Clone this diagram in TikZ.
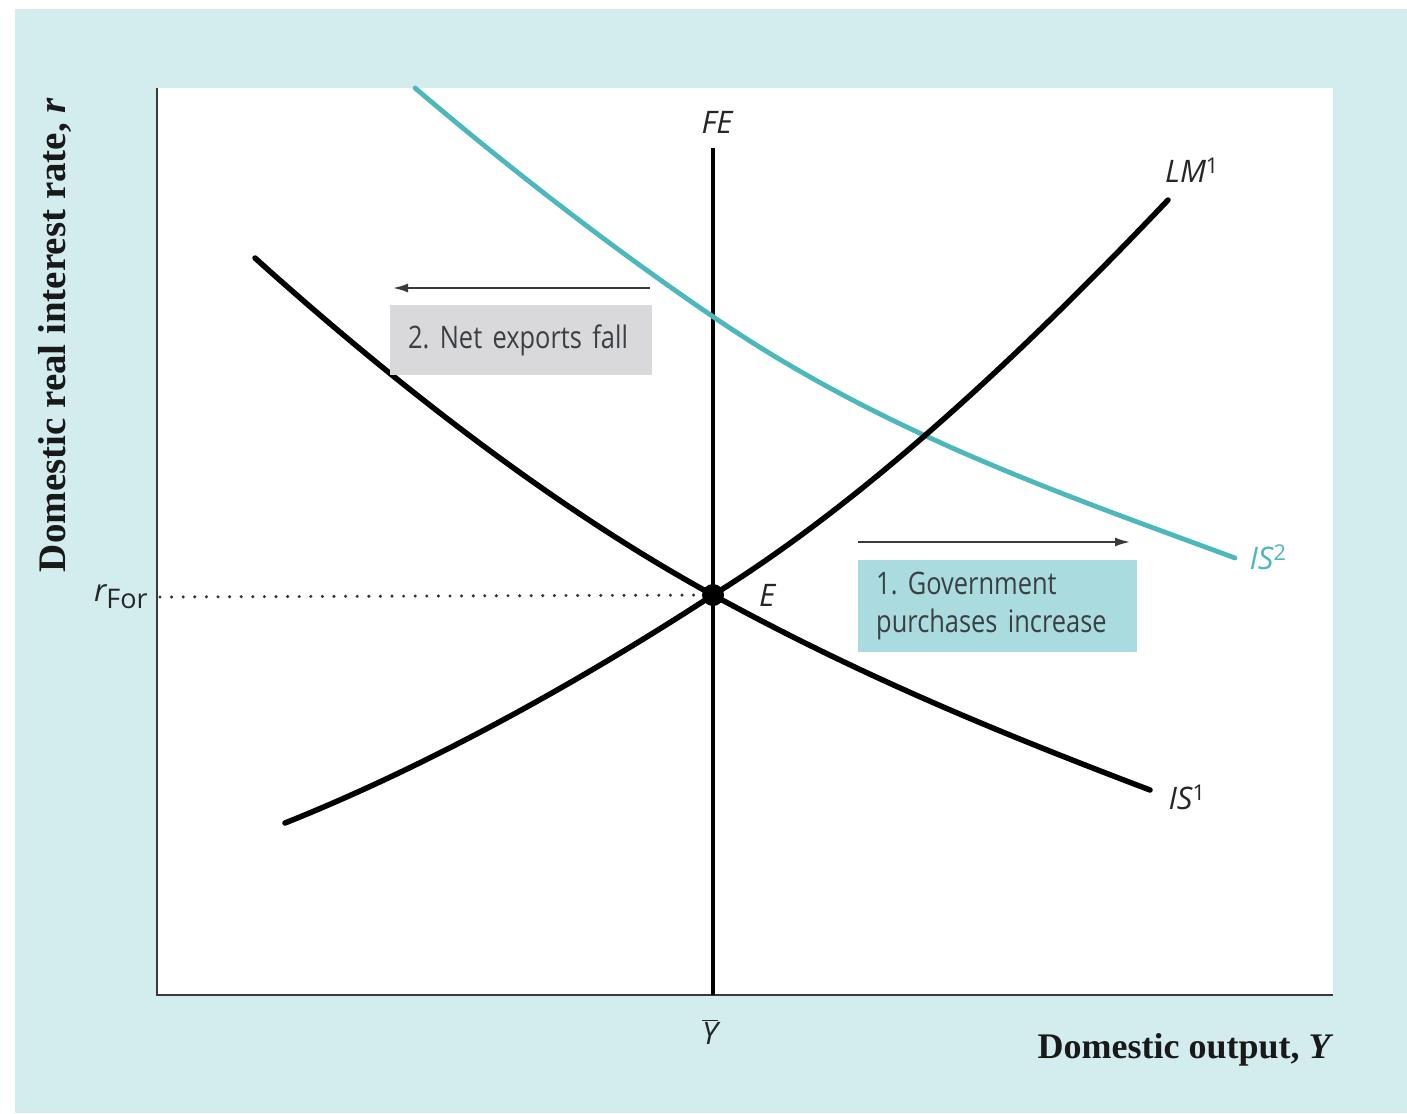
\documentclass[tikz,border=0pt]{standalone}
\usepackage{fontspec}
\usetikzlibrary{arrows.meta}
\setmainfont{Liberation Serif}
\newfontfamily\labfont[FakeStretch=0.82]{Open Sans}
\newfontfamily\curvefont{Open Sans}
\definecolor{bgcyan}{HTML}{D3ECEE}
\definecolor{tealline}{HTML}{4DB8BC}
\definecolor{boxteal}{HTML}{AADCDF}
\definecolor{boxgray}{HTML}{D9D9DC}
\definecolor{txtgray}{HTML}{3A3F44}
\definecolor{axisgray}{HTML}{3A3A3A}
\begin{document}
\frenchspacing
\begin{tikzpicture}[x=1pt,y=-1pt,
  curve/.style={line width=5.5pt,black,line cap=round},
  tealcurve/.style={line width=4.8pt,tealline,line cap=round},
  axis/.style={line width=2.5pt,axisgray},
  shiftarrow/.style={line width=2pt,axisgray,-{Latex[length=15pt,width=9pt]}},
  notebox/.style={anchor=north west,inner xsep=18pt,inner ysep=0pt,align=left,
     font=\labfont\fontsize{31}{38}\selectfont,text=txtgray},
  curvelabel/.style={font=\curvefont\itshape\fontsize{31}{36}\selectfont,text=black!85},
  axislabel/.style={font=\bfseries\fontsize{36}{40}\selectfont,text=black!90}]
\useasboundingbox (0,0) rectangle (1407,1113);
\fill[white] (0,0) rectangle (1407,1113);
\fill[bgcyan] (15,9) rectangle (1407,1113);
\fill[white] (157,88) rectangle (1333,995);
% axes
\coordinate (O) at (157,995);
\coordinate (ytop) at (157,88);
\coordinate (xend) at (1333,995);
\draw[axis] (ytop) -- (O) -- (xend);
% FE line
\coordinate (FEtop) at (713,148);
\coordinate (FEbot) at (713,995);
\draw[line width=4pt,black] (FEtop) -- (FEbot);
% dotted rFor line
\coordinate (rl) at (160,597);
\coordinate (Ept) at (713,595);
\draw[line width=3.4pt,black!80,line cap=round,dash pattern=on 0pt off 11.6pt] (rl) -- (Ept);
% IS2
\draw[tealcurve] (415,88) .. controls (515,173) and (615,250) .. (715,318)
   .. controls (885,434) and (1065,495) .. (1235,558);
% IS1
\draw[curve] (255,258) .. controls (405,393) and (563,513) .. (713,595)
   .. controls (863,677) and (1000,733) .. (1150,790);
% LM1
\draw[curve] (285,823) .. controls (425,767) and (573,686) .. (713,595)
   .. controls (863,502) and (1018,358) .. (1168,200);
% equilibrium
\fill[black] (Ept) circle (11pt);
\node[curvelabel] (Elab) at (767,595) {E};
% labels
\node[curvelabel] (FE) at (717,122) {FE};
\node[curvelabel] (LM) at (1192,170) {LM\textsuperscript{\upshape 1}};
\node[curvelabel] (IS1) at (1187,797) {IS\textsuperscript{\upshape 1}};
\node[curvelabel,text=tealline] (IS2) at (1268,557) {IS\textsuperscript{\upshape 2}};
\node[curvelabel] (rfor) at (121,597) {r\raisebox{-7pt}{\upshape\fontsize{27}{30}\selectfont For}};
\node[curvelabel] (ybar) at (710,1032) {$\overline{\mbox{\curvefont\itshape Y}}$};
\node[axislabel,anchor=east] (xlab) at (1337,1050) {Domestic output, \textit{Y}};
\node[axislabel,rotate=90,font=\bfseries\fontsize{39}{42}\selectfont] (ylab) at (55,335) {Domestic real interest rate, \textit{r}};
% box 1
\node[notebox,fill=boxteal,minimum width=279pt,minimum height=92pt,text width=243pt] (box1) at (858,560)
  {1. Government\\purchases increase};
\coordinate (a1s) at (858,542);
\coordinate (a1e) at (1130,542);
\draw[shiftarrow] (a1s) -- (a1e);
% box 2
\node[notebox,fill=boxgray,minimum width=262pt,minimum height=70pt,text width=226pt] (box2) at (390,305)
  {2. Net exports fall};
\coordinate (a2s) at (650,288);
\coordinate (a2e) at (393,288);
\draw[shiftarrow] (a2s) -- (a2e);
\end{tikzpicture}
\end{document}
